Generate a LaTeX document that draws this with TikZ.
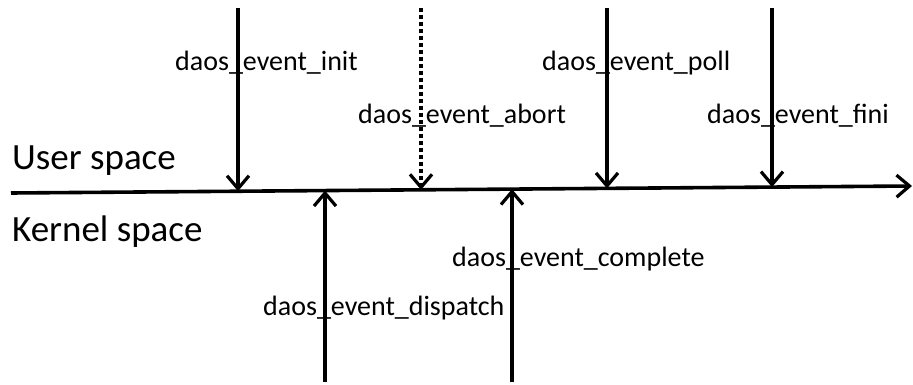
\documentclass[tikz,border=0pt]{standalone}
\usepackage{fontspec}
\setmainfont{Carlito}
\usetikzlibrary{arrows.meta}
\begin{document}
\begin{tikzpicture}[x=1pt,y=-1pt,
  call/.style={font=\fontsize{28}{30}\selectfont, anchor=base west, inner sep=0pt},
  space/.style={font=\fontsize{37}{40}\selectfont, anchor=base west, inner sep=0pt},
  flow/.style={line width=3.6pt, -{Straight Barb[length=13pt,width=22pt,line width=3.2pt]}},
  axisline/.style={line width=3.6pt, -{Straight Barb[length=13pt,width=22pt,line width=3.2pt]}},
  dotted flow/.style={flow, dash pattern=on 4pt off 3pt}]
\useasboundingbox (0,0) rectangle (913,385);

% labels
\node[space] (user)   at (12,170) {User space};
\node[space] (kernel) at (12,241) {Kernel space};
\node[call] (init)     at (175,71)  {daos\_event\_init};
\node[call] (abort)    at (358,124) {daos\_event\_abort};
\node[call] (poll)     at (542,71)  {daos\_event\_poll};
\node[call] (fini)     at (707,124) {daos\_event\_fini};
\node[call] (complete) at (452,266) {daos\_event\_complete};
\node[call] (dispatch) at (263,315) {daos\_event\_dispatch};

% boundary between user and kernel space
\coordinate (axL) at (11,193);
\coordinate (axR) at (912,186);
\draw[axisline] (axL) -- (axR);

% call entry and exit points on the boundary
\coordinate (initTop) at (238,8);      \coordinate (initTip) at (238,191.2);
\coordinate (abortTop) at (421,8);     \coordinate (abortTip) at (421,189.8);
\coordinate (pollTop) at (607,8);      \coordinate (pollTip) at (607,188.4);
\coordinate (finiTop) at (772,8);      \coordinate (finiTip) at (772,187.1);
\coordinate (dispBot) at (325,382);    \coordinate (dispTip) at (325,190.6);
\coordinate (compBot) at (512,382);    \coordinate (compTip) at (512,189.1);

\draw[flow] (initTop) -- (initTip);
\draw[dotted flow] (abortTop) -- (abortTip);
\draw[flow] (pollTop) -- (pollTip);
\draw[flow] (finiTop) -- (finiTip);
\draw[flow] (dispBot) -- (dispTip);
\draw[flow] (compBot) -- (compTip);
\end{tikzpicture}
\end{document}
